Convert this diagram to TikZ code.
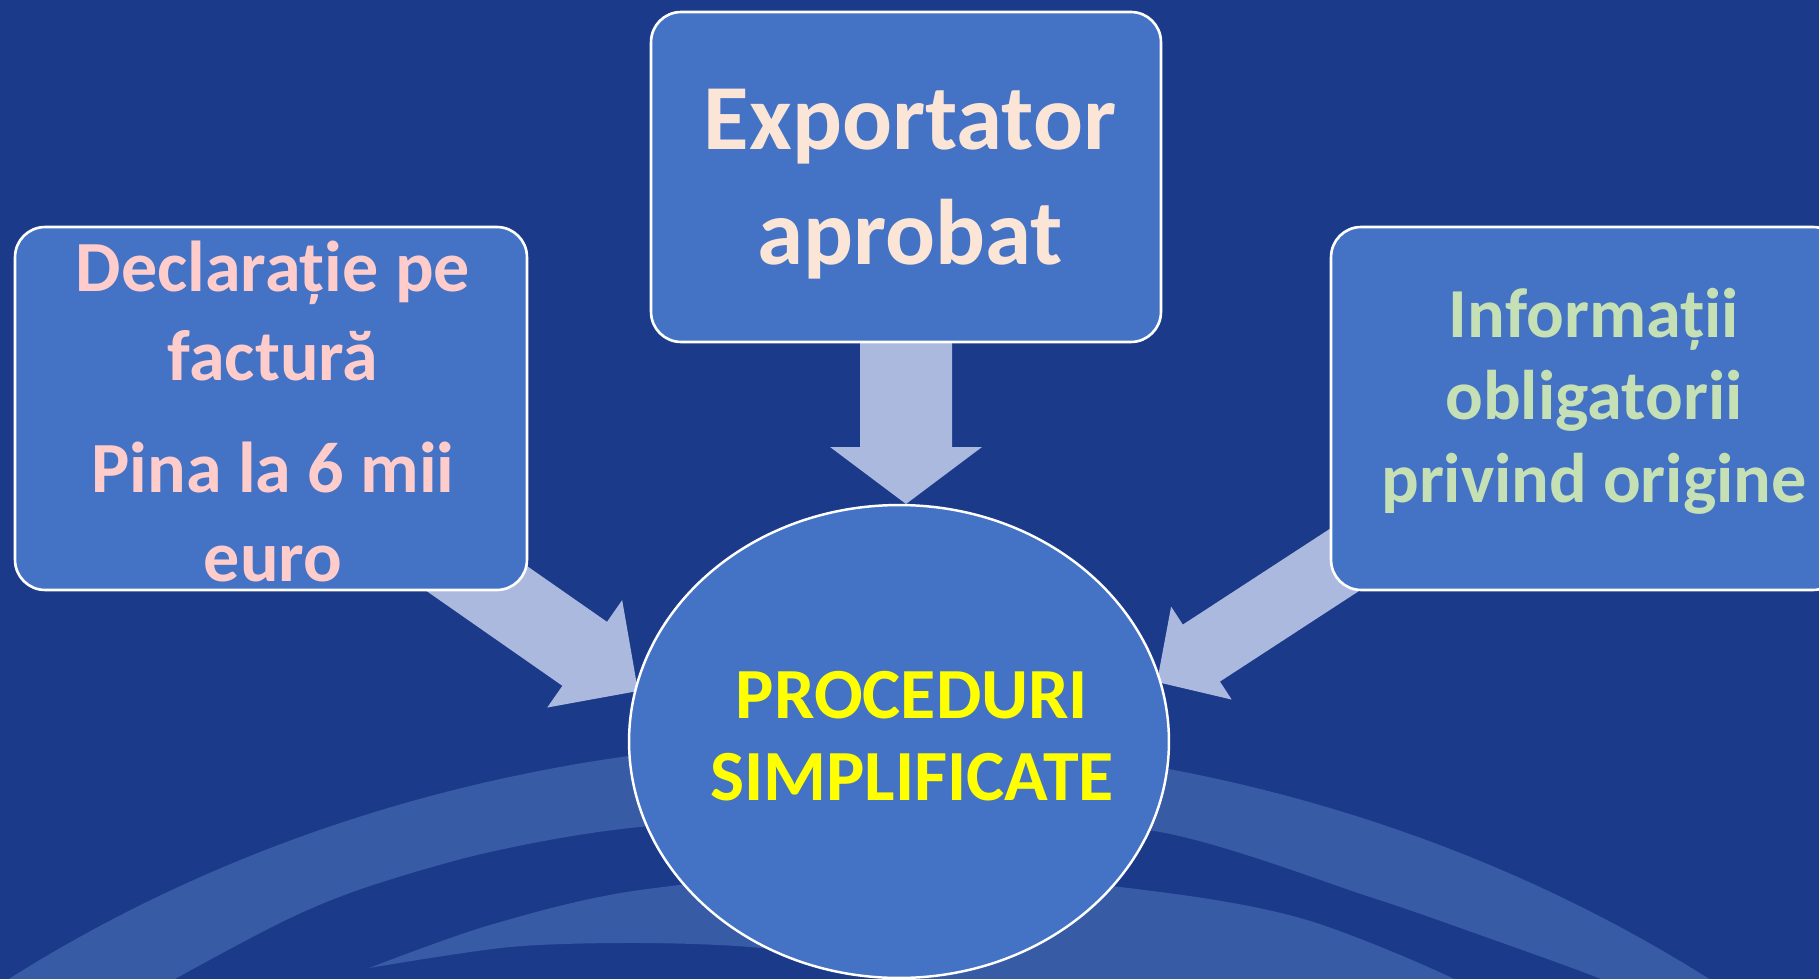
\documentclass[tikz,border=0pt]{standalone}
\usepackage{fontspec}
\setmainfont{Carlito}
\usetikzlibrary{calc,shapes.geometric}
\definecolor{bgblue}{HTML}{1C3A8A}
\definecolor{bandblue}{HTML}{375BA5}
\definecolor{boxblue}{HTML}{4472C4}
\definecolor{arrowfill}{HTML}{ABB9DE}
\definecolor{pinktext}{HTML}{FFCCCC}
\definecolor{peachtext}{HTML}{FBE5D6}
\definecolor{greentext}{HTML}{C5E0B4}
\definecolor{yellowtext}{HTML}{FFFF00}
\tikzset{
  boxnode/.style={draw=white, line width=1.5pt, fill=boxblue, rounded corners=0.6cm, inner sep=0pt},
  ellnode/.style={ellipse, draw=white, line width=1.4pt, fill=boxblue, inner sep=0pt},
  txtnode/.style={anchor=north, inner sep=0pt, align=center},
  bandfill/.style={fill=bandblue}
}
\newcommand\blockarrow[6]{%
  \coordinate (#1h) at ($(#3)!#6!(#2)$);
  \fill[arrowfill] ($(#2)!#4!90:(#3)$) -- ($(#1h)!#4!-90:(#2)$) -- ($(#1h)!#5!-90:(#2)$) -- (#3)
    -- ($(#1h)!#5!90:(#2)$) -- ($(#1h)!#4!90:(#2)$) -- ($(#2)!#4!-90:(#3)$) -- cycle;
}
\begin{document}
\begin{tikzpicture}[x=0.02cm, y=-0.02cm]
\useasboundingbox (0,0) rectangle (1819,979);
\clip (0,0) rectangle (1819,979);
\fill[bgblue] (0,0) rectangle (1819,979);
% background bands
\fill[bandfill] plot[domain=-129.3:-50.6, samples=80] ({859+1420*cos(\x)}, {1940+1200*sin(\x)})
  -- plot[smooth] coordinates {(1660,1008) (1601,979) (1480,935) (1370,897) (1160,832) (900,812) (640,827) (490,852) (367,887) (286,920) (175,979) (130,1008)} -- cycle;
\fill[bandfill] plot[smooth] coordinates {(369,968) (490,925) (640,890) (900,868) (1160,892) (1307,920) (1454,979) (1490,1012)}
  -- plot[smooth] coordinates {(1100,1050) (960,1000) (880,968) (760,948) (640,943) (510,947) (369,968)} -- cycle;
% arrow end points
\coordinate (ltail) at (433,548);
\coordinate (ltip) at (638,691);
\coordinate (ttail) at (906,300);
\coordinate (ttip) at (906,504);
\coordinate (rtail) at (1375,540);
\coordinate (rtip) at (1157,682);
\blockarrow{la}{ltail}{ltip}{0.78cm}{1.31cm}{1.30cm}
\blockarrow{ta}{ttail}{ttip}{0.92cm}{1.52cm}{1.14cm}
\blockarrow{ra}{rtail}{rtip}{0.68cm}{1.11cm}{1.06cm}
% boxes
\node[boxnode, minimum width=10.24cm, minimum height=7.26cm] (left) at (271,408.5) {};
\node[boxnode, minimum width=10.2cm, minimum height=6.6cm] (top) at (906,177) {};
\node[boxnode, minimum width=10.24cm, minimum height=7.26cm] (right) at (1587,408.5) {};
\node[ellnode, minimum width=10.8cm, minimum height=9.46cm] (center) at (899,741.5) {};
% texts
\node[txtnode, text=peachtext, font=\fontsize{53}{65.2}\selectfont\bfseries] (toptext) at (910,56.5)
  {\rule{0pt}{1em}Exportator\\aprobat};
\node[txtnode, text=pinktext, font=\fontsize{41}{51}\selectfont\bfseries] (lefttext) at (273,218.7)
  {\rule{0pt}{1em}Declarație pe\\factură\\[12.5pt]Pina la 6 mii\\euro};
\node[txtnode, text=greentext, font=\fontsize{40}{47}\selectfont\bfseries] (righttext) at (1594,266.4)
  {\rule{0pt}{1em}Informații\\obligatorii\\privind origine};
\node[txtnode, text=yellowtext, font=\fontsize{41}{47}\selectfont\bfseries] (centertext) at (912,645.7)
  {\rule{0pt}{1em}PROCEDURI\\SIMPLIFICATE};
\end{tikzpicture}
\end{document}
